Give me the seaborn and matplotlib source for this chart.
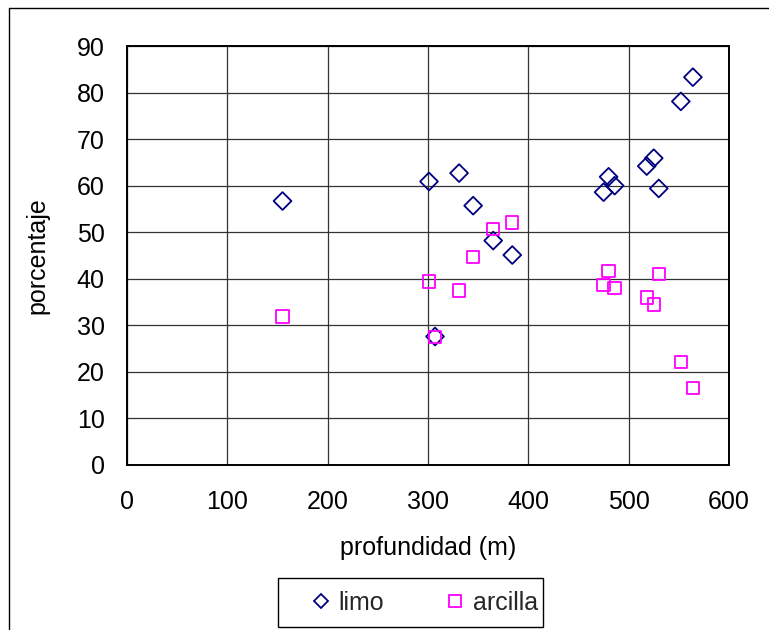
import matplotlib
matplotlib.use("Agg")
import matplotlib.pyplot as plt
import seaborn as sns
import pandas as pd
from matplotlib.lines import Line2D
from matplotlib.patches import Rectangle

# Depth of each sample (m) and its silt / clay percentages
profundidad = [155, 301, 331, 345, 365, 384, 307, 480, 475, 486, 518, 525, 530, 552, 564]
limo = [56.7, 60.9, 62.7, 55.7, 48.2, 45.1, 27.6, 61.9, 58.6, 60.0, 64.2, 65.9, 59.4, 78.1, 83.3]
arcilla = [31.9, 39.4, 37.5, 44.6, 50.7, 52.1, 27.5, 41.6, 38.7, 38.0, 36.0, 34.5, 41.0, 22.2, 16.6]

series = ["limo", "arcilla"]
x_ticks = [0, 100, 200, 300, 400, 500, 600]
y_ticks = [0, 10, 20, 30, 40, 50, 60, 70, 80, 90]

df = pd.concat([
    pd.DataFrame({"profundidad": profundidad, "valor": limo, "serie": "limo"}),
    pd.DataFrame({"profundidad": profundidad, "valor": arcilla, "serie": "arcilla"}),
], ignore_index=True)

sns.set_theme(style="white")
plt.rcParams["font.family"] = ["Liberation Sans", "DejaVu Sans"]

FS = 18
W, H = 769, 630
fig = plt.figure(figsize=(W / 100, H / 100), dpi=100)
ax = fig.add_axes([127 / W, 1 - 465 / H, (729 - 127) / W, (465 - 46) / H])

colors = {"limo": "#000080", "arcilla": "#FF00FF"}
markers = {"limo": "D", "arcilla": "s"}
sizes = {"limo": 82, "arcilla": 78}

for name in series:
    sub = df[df["serie"] == name]
    sns.scatterplot(data=sub, x="profundidad", y="valor", ax=ax,
                    marker=markers[name], s=sizes[name],
                    facecolors="none", edgecolor=colors[name],
                    linewidth=1.3, legend=False, zorder=3)

ax.set_xlim(0, 600)
ax.set_ylim(0, 90)
ax.set_xticks(x_ticks)
ax.set_yticks(y_ticks)
ax.grid(True, color="#333333", linewidth=0.9, zorder=0)
ax.set_axisbelow(True)
for sp in ax.spines.values():
    sp.set_color("black")
    sp.set_linewidth(1.4)
    sp.set_visible(True)

ax.tick_params(axis="both", direction="out", length=8, width=1, color="#555555",
               labelsize=FS, labelcolor="black")
ax.tick_params(axis="x", pad=10)
ax.tick_params(axis="y", pad=8)

ax.set_xlabel("profundidad (m)", fontsize=FS, color="black")
ax.set_ylabel("porcentaje", fontsize=FS, color="black")
ax.xaxis.label.set_va("center")
ax.yaxis.label.set_va("center")
ax.xaxis.set_label_coords(0.5, (465 - 548) / (465 - 46))
ax.yaxis.set_label_coords((37 - 127) / (729 - 127), 0.5)

handles = [
    Line2D([], [], linestyle="none", marker="D", markersize=7.5, markerfacecolor="none",
           markeredgecolor=colors["limo"], markeredgewidth=1.3, label="limo"),
    Line2D([], [], linestyle="none", marker="s", markersize=8, markerfacecolor="none",
           markeredgecolor=colors["arcilla"], markeredgewidth=1.3, label="arcilla"),
]
leg = fig.legend(handles=handles, loc="center", ncol=2,
                 bbox_to_anchor=(423 / W, 1 - 602.5 / H), bbox_transform=fig.transFigure,
                 fontsize=FS, frameon=False, handletextpad=0.2, columnspacing=2.34,
                 borderpad=0.0, handlelength=1.0)

# legend box
fig.add_artist(Rectangle((278 / W, 1 - 627 / H), (543 - 278) / W, (627 - 578) / H,
                         transform=fig.transFigure, fill=False,
                         edgecolor="black", linewidth=1.0))

# chart-area border (left and top edges)
fig.add_artist(Line2D([9 / W, 9 / W], [0, 1 - 8 / H], transform=fig.transFigure,
                      color="black", linewidth=1.0))
fig.add_artist(Line2D([9 / W, 1], [1 - 8 / H, 1 - 8 / H], transform=fig.transFigure,
                      color="black", linewidth=1.0))

fig.savefig("out.png", dpi=100)
